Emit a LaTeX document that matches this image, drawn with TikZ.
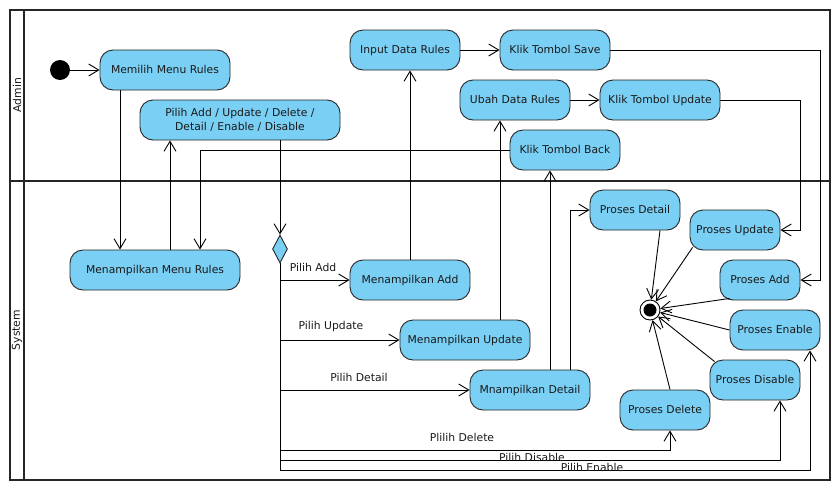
\documentclass[tikz,border=0pt]{standalone}
\usepackage{fontspec}
\setmainfont{DejaVu Sans}
\usetikzlibrary{arrows.meta,shapes.geometric,calc}
\definecolor{actblue}{HTML}{7ACFF4}
\definecolor{txt}{HTML}{1A1A1A}
\begin{document}
\begin{tikzpicture}[x=1pt,y=-1pt,
  every node/.style={font=\fontsize{10.8}{14}\selectfont, text=txt},
  act/.style={draw=black!85, line width=0.9pt, fill=actblue, rounded corners=13pt,
    minimum height=40pt, inner sep=2pt, align=center},
  one/.style={text height=7.9pt, text depth=0pt},
  arr/.style={draw=black, line width=0.9pt, -{Straight Barb[length=10pt,width=12pt]}},
  lane/.style={draw=black!85, line width=1.8pt},
  lbl/.style={inner sep=0pt}
]
\useasboundingbox (0,0) rectangle (839,485);
% swimlanes
\draw[lane] (10,10) rectangle (830,480);
\draw[lane] (24,10) -- (24,480);
\draw[lane] (10,181) -- (830,181);
\node[rotate=90] (admin) at (17,95) {Admin};
\node[rotate=90] (system) at (17,330) {System};

% nodes
\node[circle, fill=black, minimum size=20pt, inner sep=0pt] (init) at (60,70) {};
\node[act, one, minimum width=130pt] (memilih) at (165,70) {Memilih Menu Rules};
\node[act, minimum width=200pt] (pilih) at (240,120) {Pilih Add / Update / Delete /\\Detail / Enable / Disable};
\node[act, one, minimum width=110pt] (input) at (405,50) {Input Data Rules};
\node[act, one, minimum width=110pt] (save) at (555,50) {Klik Tombol Save};
\node[act, one, minimum width=110pt] (ubah) at (515,100) {Ubah Data Rules};
\node[act, one, minimum width=120pt] (kupdate) at (660,100) {Klik Tombol Update};
\node[act, one, minimum width=110pt] (back) at (565,150) {Klik Tombol Back};
\node[act, one, minimum width=170pt] (menu) at (155,270) {Menampilkan Menu Rules};
\node[diamond, draw=black!85, line width=0.9pt, fill=actblue, minimum width=15pt, minimum height=28pt, inner sep=0pt] (dec) at (280,249) {};
\node[act, one, minimum width=120pt] (madd) at (410,280) {Menampilkan Add};
\node[act, one, minimum width=130pt] (mupdate) at (465,340) {Menampilkan Update};
\node[act, one, minimum width=120pt] (mdetail) at (530,390) {Mnampilkan Detail};
\node[act, one, minimum width=90pt] (pdetail) at (635,210) {Proses Detail};
\node[act, one, minimum width=90pt] (pupdate) at (735,230) {Proses Update};
\node[act, one, minimum width=80pt] (padd) at (760,280) {Proses Add};
\node[act, one, minimum width=90pt] (penable) at (775,330) {Proses Enable};
\node[act, one, minimum width=90pt] (pdisable) at (755,380) {Proses Disable};
\node[act, one, minimum width=90pt] (pdelete) at (665,410) {Proses Delete};
\node[circle, draw=black, line width=0.9pt, fill=white, minimum size=20pt, inner sep=0pt,
  path picture={\fill[black] (path picture bounding box.center) circle (6.5pt);}] (final) at (650,310) {};

% corner coordinates
\coordinate (cdel) at (670,450);
\coordinate (cdis) at (780,460);
\coordinate (cen) at (810,470);
\coordinate (csave) at (820,280);
\coordinate (cupd) at (800,230);

% connectors
\draw[arr] (init) -- (memilih);
\draw[arr] ([xshift=-45pt]memilih.south) -- ([xshift=-35pt]menu.north);
\draw[arr] ([xshift=15pt]menu.north) -- ([xshift=-70pt]pilih.south);
\draw[arr] ([xshift=40pt]pilih.south) -- (dec.north);
\draw[arr] (back.west) -| ([xshift=45pt]menu.north);

\draw[arr] (dec.south) |- (madd.west);
\draw[arr] (dec.south) |- (mupdate.west);
\draw[arr] (dec.south) |- (mdetail.west);
\draw[arr] (dec.south) |- (cdel) -- ([xshift=5pt]pdelete.south);
\draw[arr] (dec.south) |- (cdis) -- ([xshift=25pt]pdisable.south);
\draw[arr] (dec.south) |- (cen) -- ([xshift=35pt]penable.south);

\draw[arr] (madd.north) -- ([xshift=5pt]input.south);
\draw[arr] ([xshift=35pt]mupdate.north) -- ([xshift=-15pt]ubah.south);
\draw[arr] ([xshift=20pt]mdetail.north) -- ([xshift=-15pt]back.south);
\draw[arr] ([xshift=40pt]mdetail.north) |- (pdetail.west);

\draw[arr] (input) -- (save);
\draw[arr] (ubah) -- (kupdate);
\draw[arr] (save.east) -| (csave) -- (padd.east);
\draw[arr] (kupdate.east) -| (cupd) -- (pupdate.east);

\draw[arr] ([xshift=25pt]pdetail.south) -- (final);
\draw[arr] ($(pupdate.south west)+(3,-3)$) -- (final);
\draw[arr] ($(padd.south west)+(10,-2)$) -- (final);
\draw[arr] (penable.west) -- (final);
\draw[arr] ($(pdisable.north west)+(5,2)$) -- (final);
\draw[arr] ([xshift=5pt]pdelete.north) -- (final);

% branch labels
\node[lbl] (lAdd) at (313,267) {Pilih Add};
\node[lbl] (lUpd) at (331,327) {Pilih Update};
\node[lbl] (lDet) at (359,377) {Pilih Detail};
\node[lbl] (lDel) at (462,437) {Plilih Delete};
\node[lbl] (lDis) at (532,457) {Pilih Disable};
\node[lbl] (lEn) at (592,467) {Pilih Enable};
\end{tikzpicture}
\end{document}
